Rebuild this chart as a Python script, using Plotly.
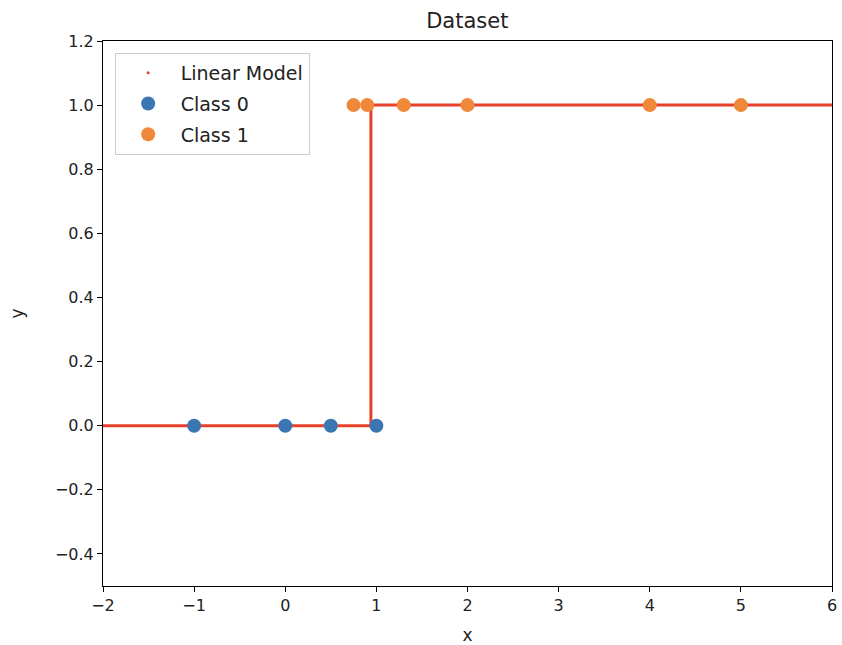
import plotly.graph_objects as go

class0_x = [-1, 0, 0.5, 1]
class0_y = [0, 0, 0, 0]
class1_x = [0.75, 0.9, 1.3, 2, 4, 5]
class1_y = [1, 1, 1, 1, 1, 1]
model_x = [-2, 0.94, 0.94, 6]
model_y = [0, 0, 1, 1]

RED = "#e8402a"
fig = go.Figure()
fig.add_trace(go.Scatter(x=model_x, y=model_y, mode="lines",
                         line=dict(color=RED, width=3), showlegend=False, hoverinfo="skip"))
fig.add_trace(go.Scatter(x=[None], y=[None], mode="markers", name="Linear Model",
                         legendgroup="a", marker=dict(color=RED, size=3)))
fig.add_trace(go.Scatter(x=class0_x, y=class0_y, mode="markers", name="Class 0",
                         legendgroup="b", marker=dict(color="#3a77b2", size=14)))
fig.add_trace(go.Scatter(x=class1_x, y=class1_y, mode="markers", name="Class 1",
                         legendgroup="c", marker=dict(color="#f0883a", size=14)))

axis_common = dict(showgrid=False, zeroline=False, showline=True, mirror=True,
                   linecolor="black", linewidth=1, ticks="outside", ticklen=5,
                   tickcolor="black", tickfont=dict(size=16, color="#222"),
                   automargin=False)
fig.update_layout(
    width=842, height=645,
    margin=dict(l=103, r=10, t=41, b=59, autoexpand=False),
    plot_bgcolor="white", paper_bgcolor="white",
    font=dict(family="DejaVu Sans", color="#222"),
    title=dict(text="Dataset", x=0.555, xanchor="center", y=0.968, yanchor="middle",
               font=dict(size=21, color="#222")),
    xaxis=dict(range=[-2, 6], tickvals=list(range(-2, 7)),
               ticktext=["−2", "−1", "0", "1", "2", "3", "4", "5", "6"],
               title=dict(text="x", font=dict(size=17), standoff=15), **axis_common),
    yaxis=dict(range=[-0.5, 1.2], tickvals=[-0.4, -0.2, 0, 0.2, 0.4, 0.6, 0.8, 1.0, 1.2],
               ticktext=["−0.4", "−0.2", "0.0", "0.2", "0.4", "0.6", "0.8", "1.0", "1.2"],
               title=dict(text="y", font=dict(size=17), standoff=26), **axis_common),
    legend=dict(x=0.016, y=0.978, xanchor="left", yanchor="top", traceorder="grouped",
                tracegroupgap=3, itemwidth=55,
                bgcolor="rgba(255,255,255,0.8)", bordercolor="#cccccc", borderwidth=1,
                font=dict(size=19, color="#222"), itemsizing="trace"),
)
fig.write_html("out.html")
